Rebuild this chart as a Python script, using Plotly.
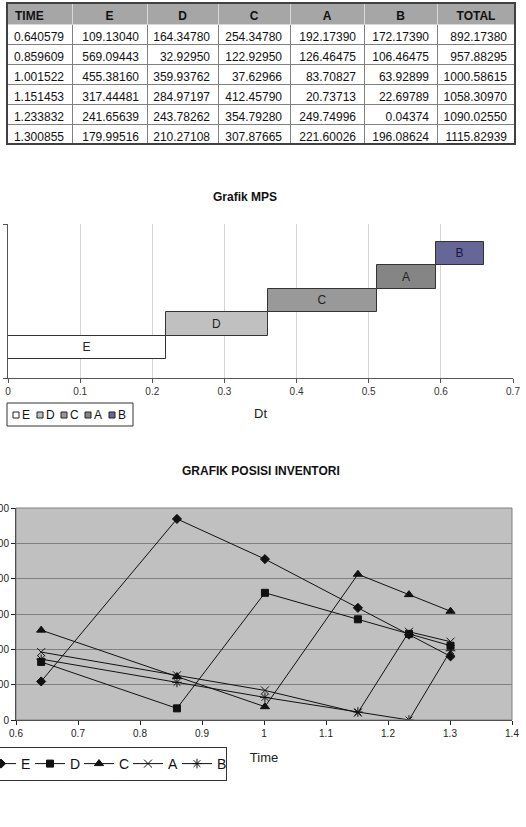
import plotly.graph_objects as go

W, H = 526, 827


def px(x):
    return x / W


def py(y):
    return 1 - y / H


# ---------------- data ----------------
columns = ["TIME", "E", "D", "C", "A", "B", "TOTAL"]
time_vals = [0.640579, 0.859609, 1.001522, 1.151453, 1.233832, 1.300855]
E_vals = [109.13040, 569.09443, 455.38160, 317.44481, 241.65639, 179.99516]
D_vals = [164.34780, 32.92950, 359.93762, 284.97197, 243.78262, 210.27108]
C_vals = [254.34780, 122.92950, 37.62966, 412.45790, 354.79280, 307.87665]
A_vals = [192.17390, 126.46475, 83.70827, 20.73713, 249.74996, 221.60026]
B_vals = [172.17390, 106.46475, 63.92899, 22.69789, 0.04374, 196.08624]
total_vals = [892.17380, 957.88295, 1000.58615, 1058.30970, 1090.02550, 1115.82939]

mps_products = ["E", "D", "C", "A", "B"]
mps_start = [0.0, 0.219030, 0.360943, 0.510874, 0.593253]
mps_dt = [0.219030, 0.141913, 0.149931, 0.082379, 0.067023]
mps_level = [1, 2, 3, 4, 5]
mps_colors = ["#ffffff", "#c0c0c0", "#999999", "#858585", "#666699"]
mps_text_colors = ["#222222", "#222222", "#222222", "#222222", "#1a1a40"]

inv_series = {"E": E_vals, "D": D_vals, "C": C_vals, "A": A_vals, "B": B_vals}
inv_symbols = {"E": "diamond", "D": "square", "C": "triangle-up",
               "A": "x-thin-open", "B": "asterisk-open"}
inv_sizes = {"E": 7, "D": 7, "C": 8, "A": 8, "B": 8}

FONT = "Liberation Sans, Arial, sans-serif"

fig = go.Figure()

# ---------------- table ----------------
cell_values = [
    [f"{v:.6f}" for v in time_vals],
    [f"{v:.5f}" for v in E_vals],
    [f"{v:.5f}" for v in D_vals],
    [f"{v:.5f}" for v in C_vals],
    [f"{v:.5f}" for v in A_vals],
    [f"{v:.5f}" for v in B_vals],
    [f"{v:.5f}" for v in total_vals],
]
fig.add_trace(go.Table(
    domain=dict(x=[px(7), px(515)], y=[py(150), py(3)]),
    columnwidth=[65, 75, 71, 72, 74, 73, 78],
    header=dict(
        values=columns,
        fill_color="#a6a6a6",
        line=dict(color="#d8d8d8", width=1),
        align=["left"] + ["center"] * 6,
        font=dict(family=FONT, size=12, color="#111111", weight="bold"),
        height=21,
    ),
    cells=dict(
        values=cell_values,
        fill_color="#ffffff",
        line=dict(color="#808080", width=1),
        align="right",
        font=dict(family=FONT, size=12, color="#111111"),
        height=20,
    ),
))

# ---------------- MPS chart ----------------
for name, s, d, lvl, col, tcol in zip(mps_products, mps_start, mps_dt,
                                       mps_level, mps_colors, mps_text_colors):
    fig.add_trace(go.Bar(
        y=[lvl], x=[d], base=[s], orientation="h", width=1,
        name=name, showlegend=False,
        marker=dict(color=col, line=dict(color="#333333", width=1)),
        text=[name], textposition="inside", insidetextanchor="middle",
        constraintext="none", textangle=0,
        textfont=dict(family=FONT, size=12, color=tcol),
        xaxis="x", yaxis="y", hoverinfo="skip",
    ))

# ---------------- inventory chart ----------------
for name, vals in inv_series.items():
    fig.add_trace(go.Scatter(
        x=time_vals, y=vals, mode="lines+markers", name=name,
        line=dict(color="#111111", width=1),
        marker=dict(symbol=inv_symbols[name], size=inv_sizes[name],
                    color="#111111", line=dict(color="#111111", width=1)),
        xaxis="x2", yaxis="y2",
    ))

shapes = [
    # inventory plot background
    dict(type="rect", xref="x2 domain", yref="y2 domain", x0=0, x1=1, y0=0,
         y1=1, fillcolor="#c0c0c0", line=dict(width=0), layer="below"),
    # inventory plot border
    dict(type="rect", xref="x2 domain", yref="y2 domain", x0=0, x1=1, y0=0,
         y1=1, line=dict(color="#808080", width=1), layer="above"),
    # MPS legend box
    dict(type="rect", xref="paper", yref="paper", x0=px(7), x1=px(133),
         y0=py(426), y1=py(403), line=dict(color="#333333", width=1),
         fillcolor="#ffffff", layer="above"),
    # table outer border
    dict(type="rect", xref="paper", yref="paper", x0=px(7), x1=px(515),
         y0=py(144), y1=py(3), line=dict(color="#404040", width=2),
         layer="above"),
]
annotations = [
    dict(text="<b>Grafik MPS</b>", x=px(245), y=py(197), xref="paper",
         yref="paper", xanchor="center", yanchor="middle", showarrow=False,
         font=dict(family=FONT, size=12, color="#111111")),
    dict(text="<b>GRAFIK POSISI INVENTORI</b>", x=px(261), y=py(471),
         xref="paper", yref="paper", xanchor="center", yanchor="middle",
         showarrow=False, font=dict(family=FONT, size=12, color="#111111")),
]
# compact legend for MPS
for i, (name, col) in enumerate(zip(mps_products, mps_colors)):
    x0 = 13 + 24 * i
    shapes.append(dict(type="rect", xref="paper", yref="paper",
                       x0=px(x0), x1=px(x0 + 6), y0=py(418), y1=py(412),
                       fillcolor=col, line=dict(color="#222222", width=1),
                       layer="above"))
    annotations.append(dict(text=name, x=px(x0 + 7), y=py(415), xref="paper",
                            yref="paper", xanchor="left", yanchor="middle",
                            showarrow=False,
                            font=dict(family=FONT, size=12, color="#111111")))

fig.update_layout(
    template="none",
    width=W, height=H,
    margin=dict(l=0, r=0, t=0, b=0, pad=0, autoexpand=False),
    paper_bgcolor="#ffffff", plot_bgcolor="#ffffff",
    font=dict(family=FONT, color="#111111"),
    bargap=0,
    xaxis=dict(domain=[px(8), px(513)], range=[0, 0.7], tick0=0, dtick=0.1,
               showgrid=True, gridcolor="#d4d4d4", gridwidth=1,
               showline=True, linecolor="#555555", ticks="outside", ticklen=4,
               tickcolor="#555555", zeroline=False, anchor="y",
               automargin=False,
               tickfont=dict(size=10, color="#333333"),
               title=dict(text="Dt", font=dict(size=13, color="#222222"),
                          standoff=12)),
    yaxis=dict(domain=[py(378), py(224)], range=[-0.3, 6.27],
               showticklabels=False, showgrid=False, zeroline=False,
               showline=True, linecolor="#555555", ticks="outside",
               ticklen=4, tickcolor="#555555", tickvals=[-0.3, 6.27],
               anchor="x", automargin=False),
    xaxis2=dict(domain=[px(16), px(512)], range=[0.6, 1.4], tick0=0.6,
                dtick=0.1, showgrid=False, showline=True,
                linecolor="#222222", ticks="outside", ticklen=4,
                tickcolor="#222222", zeroline=False, anchor="y2",
                automargin=False,
                tickfont=dict(size=10, color="#222222"),
                title=dict(text="Time", font=dict(size=13, color="#222222"),
                           standoff=14)),
    yaxis2=dict(domain=[py(720), py(508)], range=[0, 600], dtick=100,
                showgrid=True, gridcolor="#808080", gridwidth=1,
                showline=True, linecolor="#222222", ticks="outside",
                ticklen=4, tickcolor="#222222", zeroline=False, anchor="x2",
                automargin=False,
                tickfont=dict(size=10, color="#222222")),
    legend=dict(orientation="h", x=px(-20), y=py(747), xanchor="left",
                yanchor="top", bordercolor="#333333", borderwidth=1,
                bgcolor="#ffffff", font=dict(size=14, color="#111111"),
                itemwidth=30, tracegroupgap=0, entrywidth=4,
                entrywidthmode="pixels"),
    shapes=shapes,
    annotations=annotations,
)

fig.write_html("out.html")
